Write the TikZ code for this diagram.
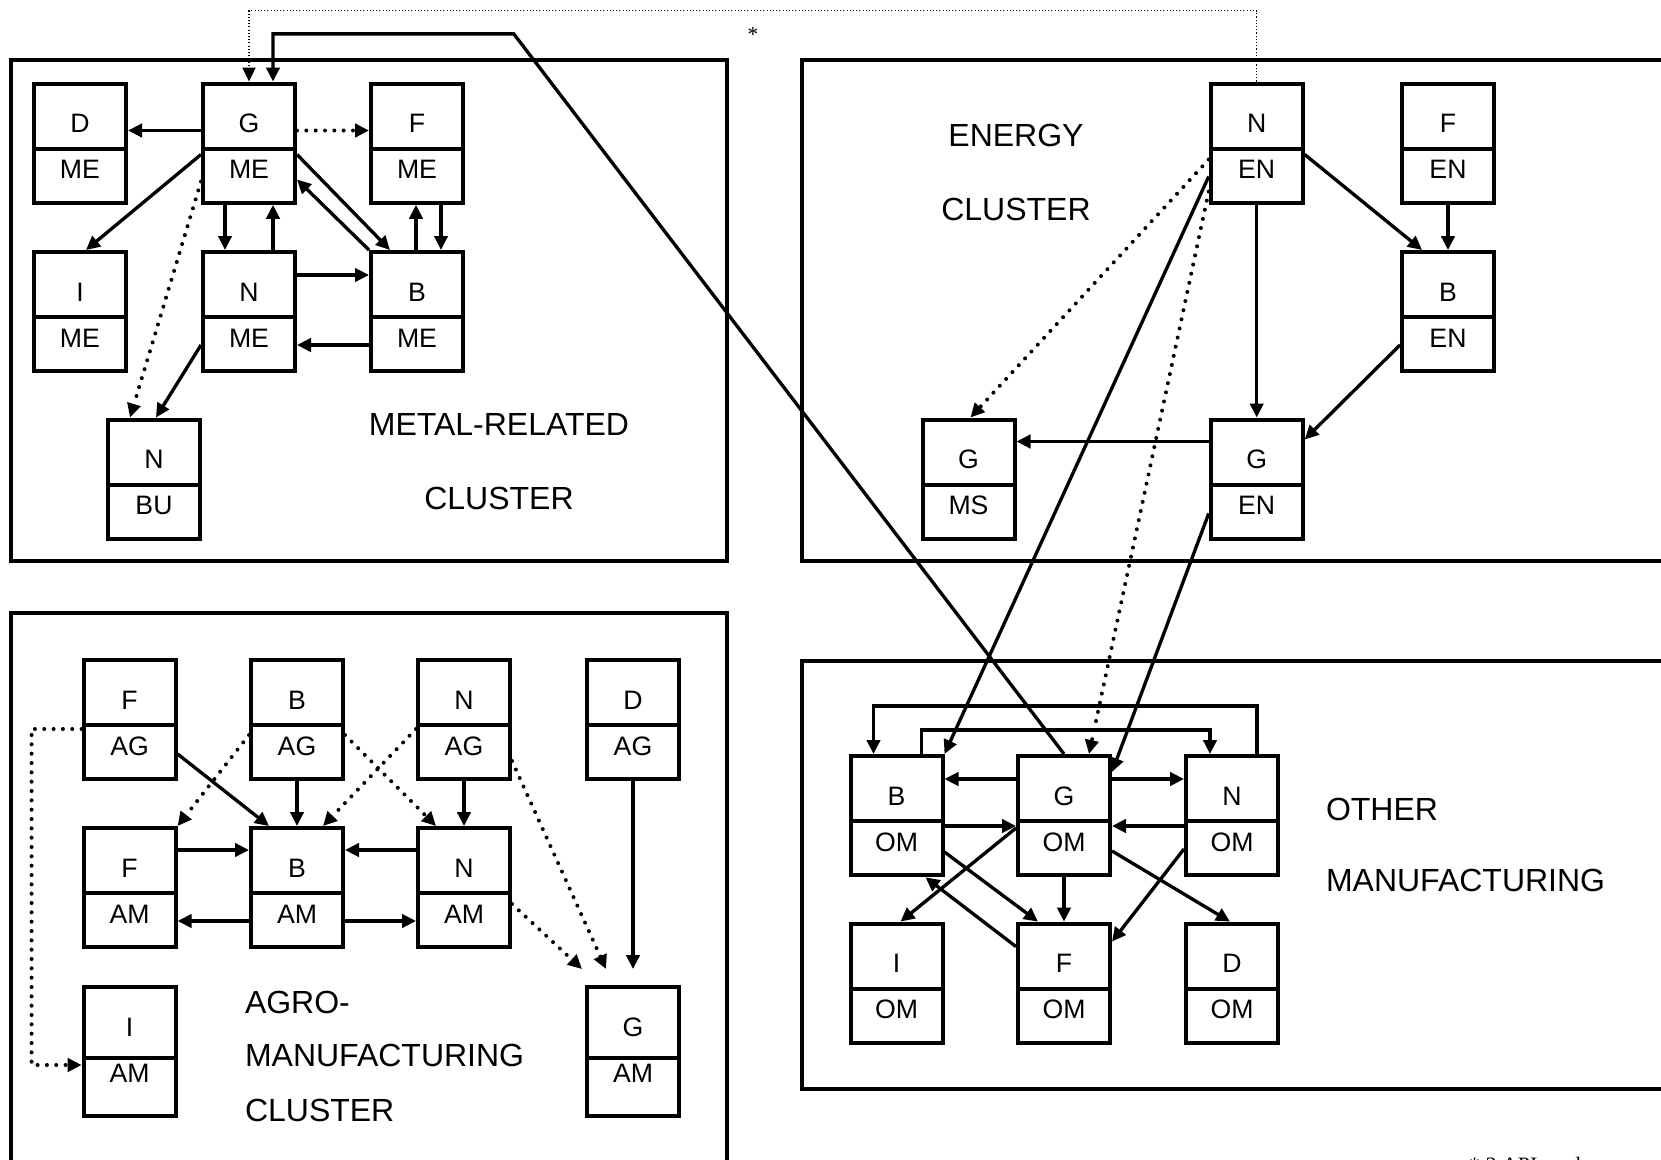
\documentclass[tikz,border=0pt]{standalone}
\usepackage{fontspec}
\setmainfont{Liberation Sans}
\newfontfamily\notefont{Liberation Serif}
\usetikzlibrary{arrows.meta,calc,shapes.multipart}

% two-part unit box: sector letter on top, cluster code below
\newcommand{\cell}[2]{\rule[-10.5pt]{0pt}{46pt}#1\nodepart{two}\rule[-16.7pt]{0pt}{37.5pt}#2}
\newcommand{\tallcell}[2]{\rule[-14.5pt]{0pt}{50.25pt}#1\nodepart{two}\rule[-23.15pt]{0pt}{40.25pt}#2}

\tikzset{every picture/.style={line width=3pt},
  unit/.style={rectangle split, rectangle split parts=2, draw, minimum width=69pt,
    inner xsep=0pt, inner ysep=0pt, anchor=north west, font=\fontsize{20}{23}\selectfont},
  cluster/.style={line width=3pt},
  label/.style={font=\fontsize{24}{28}\selectfont, inner sep=0pt},
  flow/.style={line width=2.5pt, -{Triangle[length=10.5pt,width=10pt]}},
  weak/.style={flow, line width=3pt, line cap=round, dash pattern=on 0pt off 7pt},
  link/.style={line width=0.8pt, dash pattern=on 0.8pt off 1.6pt, -{Triangle[length=10.5pt,width=10pt]}}
}

\begin{document}
\begin{tikzpicture}[x=0.75pt,y=0.75pt,yscale=-1,xscale=1]
\useasboundingbox (0,0) rectangle (1661,1160);

%Shape: Rectangle  (metal-related cluster)
\draw [cluster] (10.5,60.3) rectangle (726.8,560.5);
\node [unit] (dme) at (32,81.5) {\cell{D}{ME}};
\node [unit] (gme) at (201,81.5) {\cell{G}{ME}};
\node [unit] (fme) at (369,81.5) {\cell{F}{ME}};
\node [unit] (ime) at (32,250) {\cell{I}{ME}};
\node [unit] (nme) at (201,250) {\cell{N}{ME}};
\node [unit] (bme) at (369,250) {\cell{B}{ME}};
\node [unit] (nbu) at (106,417.5) {\cell{N}{BU}};
% Text Node
\node [label] (metal) at (499,424) {METAL-RELATED};
\node [label] (metalc) at (499,498) {CLUSTER};
%Straight Lines
\draw [flow] ($(gme.north west)+(0,49)$) -- ($(dme.north east)+(0,49)$);
\draw [weak] ($(gme.north east)+(0,49)$) -- ($(fme.north west)+(0,49)$);
\draw [flow] ($(gme.north west)+(0,73)$) -- ($(ime.north west)+(54,0)$);
\draw [weak] ($(gme.north west)+(0,100)$) -- ($(nbu.north west)+(24,0)$);
\draw [flow] ($(gme.south west)+(24,0)$) -- ($(nme.north west)+(24,0)$);
\draw [flow] ($(nme.north west)+(72,0)$) -- ($(gme.south west)+(72,0)$);
\draw [flow] ($(gme.north east)+(0,73)$) -- ($(bme.north west)+(21,0)$);
\draw [flow] (bme.north west) -- ($(gme.north east)+(0,98)$);
\draw [flow] ($(bme.north west)+(47,0)$) -- ($(fme.south west)+(47,0)$);
\draw [flow] ($(fme.south west)+(72,0)$) -- ($(bme.north west)+(72,0)$);
\draw [flow] ($(nme.north east)+(0,25)$) -- ($(bme.north west)+(0,25)$);
\draw [flow] ($(bme.north west)+(0,95)$) -- ($(nme.north east)+(0,95)$);
\draw [flow] ($(nme.north west)+(0,95)$) -- ($(nbu.north west)+(50,0)$);

%Shape: Rectangle  (energy cluster)
\draw [cluster] (801.8,60.3) rectangle (1700,560.5);
\node [unit] (nen) at (1208.7,81.5) {\cell{N}{EN}};
\node [unit] (fen) at (1400,81.5) {\cell{F}{EN}};
\node [unit] (ben) at (1400,250) {\cell{B}{EN}};
\node [unit] (gms) at (920.5,417.5) {\cell{G}{MS}};
\node [unit] (gen) at (1208.7,417.5) {\cell{G}{EN}};
% Text Node
\node [label] (energy) at (1016,135) {ENERGY};
\node [label] (energyc) at (1016,209) {CLUSTER};
%Straight Lines
\draw [flow] ($(nen.north east)+(0,73)$) -- ($(ben.north west)+(22,0)$);
\draw [flow] (fen.south) -- (ben.north);
\draw [flow] (nen.south) -- (gen.north);
\draw [flow] ($(ben.north west)+(0,95)$) -- ($(gen.north east)+(0,22)$);
\draw [flow] ($(gen.north west)+(0,24)$) -- ($(gms.north east)+(0,24)$);
\draw [weak] ($(nen.north west)+(0,78)$) -- ($(gms.north west)+(50,0)$);

%Shape: Rectangle  (agro-manufacturing cluster)
\draw [cluster] (10.5,613) rectangle (726.8,1200);
\node [unit] (fag) at (81.6,658) {\cell{F}{AG}};
\node [unit] (bag) at (249,658) {\cell{B}{AG}};
\node [unit] (nag) at (416,658) {\cell{N}{AG}};
\node [unit] (dag) at (585,658) {\cell{D}{AG}};
\node [unit] (fam) at (81.6,826) {\cell{F}{AM}};
\node [unit] (bam) at (249,826) {\cell{B}{AM}};
\node [unit] (nam) at (416,826) {\cell{N}{AM}};
\node [unit] (iam) at (81.6,985) {\tallcell{I}{AM}};
\node [unit] (gam) at (585,985) {\tallcell{G}{AM}};
% Text Node
\node [label, anchor=west] (agro) at (243,1002) {AGRO-};
\node [label, anchor=west] (agrom) at (243,1055) {MANUFACTURING};
\node [label, anchor=west] (agroc) at (243,1110.7) {CLUSTER};
%Straight Lines
\draw [flow] ($(fam.north east)+(0,24)$) -- ($(bam.north west)+(0,24)$);
\draw [flow] ($(bam.north west)+(0,95)$) -- ($(fam.north east)+(0,95)$);
\draw [flow] ($(nam.north west)+(0,24)$) -- ($(bam.north east)+(0,24)$);
\draw [flow] ($(bam.north east)+(0,95)$) -- ($(nam.north west)+(0,95)$);
\draw [weak] ($(fag.north west)+(0,71)$) -- ++(-50,0) |- ($(iam.north west)+(0,80)$);
\draw [flow] ($(fag.north east)+(0,96)$) -- ($(bam.north west)+(20,0)$);
\draw [flow] (bag.south) -- (bam.north);
\draw [weak] ($(bag.north west)+(0,77)$) -- (fam.north east);
\draw [weak] ($(bag.north east)+(0,77)$) -- ($(nam.north west)+(20,0)$);
\draw [weak] ($(nag.north west)+(0,71)$) -- ($(bam.north west)+(74,0)$);
\draw [flow] (nag.south) -- (nam.north);
\draw [weak] ($(nag.north east)+(0,103)$) -- ($(gam.north west)+(21,-16)$);
\draw [weak] ($(nam.north east)+(0,78)$) -- ($(gam.north west)+(-3,-16)$);
\draw [flow] (dag.south) -- ($(gam.north)+(0,-16)$);

%Shape: Rectangle  (other manufacturing)
\draw [cluster] (801.8,661) rectangle (1700,1089);
\node [unit] (bom) at (848.5,754) {\cell{B}{OM}};
\node [unit] (gom) at (1016,754) {\cell{G}{OM}};
\node [unit] (nom) at (1184,754) {\cell{N}{OM}};
\node [unit] (iom) at (848.5,921.6) {\cell{I}{OM}};
\node [unit] (fom) at (1016,921.6) {\cell{F}{OM}};
\node [unit] (dom) at (1184,921.6) {\cell{D}{OM}};
% Text Node
\node [label, anchor=west] (other) at (1324,809) {OTHER};
\node [label, anchor=west] (otherm) at (1324,880) {MANUFACTURING};
%Straight Lines
\draw [flow] ($(nom.north west)+(73,0)$) -- ++(0,-48) -| ($(bom.north west)+(25,0)$);
\draw [flow] ($(bom.north west)+(73,0)$) -- ++(0,-24) -| ($(nom.north west)+(26,0)$);
\draw [flow] ($(gom.north west)+(0,25)$) -- ($(bom.north east)+(0,25)$);
\draw [flow] ($(gom.north east)+(0,25)$) -- ($(nom.north west)+(0,25)$);
\draw [flow] ($(bom.north east)+(0,72)$) -- ($(gom.north west)+(0,72)$);
\draw [flow] ($(nom.north west)+(0,72)$) -- ($(gom.north east)+(0,72)$);
\draw [flow] ($(bom.north east)+(0,98)$) -- ($(fom.north west)+(22,0)$);
\draw [flow] ($(gom.north west)+(0,74)$) -- ($(iom.north west)+(52,0)$);
\draw [flow] ($(fom.north west)+(0,25)$) -- ($(bom.south west)+(77,0)$);
\draw [flow] (gom.south) -- (fom.north);
\draw [flow] ($(gom.north east)+(0,97)$) -- ($(dom.north west)+(46,0)$);
\draw [flow] ($(nom.north west)+(0,95)$) -- ($(fom.north east)+(0,20)$);

%Straight Lines  (between clusters)
\draw [flow] ($(nen.north west)+(0,95)$) -- (bom.north east);
\draw [weak] ($(nen.north west)+(0,110)$) -- ($(gom.north west)+(73,0)$);
\draw [flow] ($(gen.north west)+(0,96)$) -- ($(gom.north east)+(0,18)$);
\coordinate (bend) at (513.8,33.9);
\draw [flow] (gom.north) -- (bend) -| ($(gme.north west)+(72,0)$);
\coordinate (topline) at (0,10.6);
\draw [link] (nen.north) |- (topline -| gme.north) -- (gme.north);

% Text Node
\node [font=\notefont\fontsize{16}{18}\selectfont, inner sep=0pt] (star) at (753,35) {*};
\node [font=\notefont\fontsize{16.5}{18}\selectfont, inner sep=0pt, anchor=base west] (note) at (1467,1172) {* 3 API are large};
\end{tikzpicture}
\end{document}
